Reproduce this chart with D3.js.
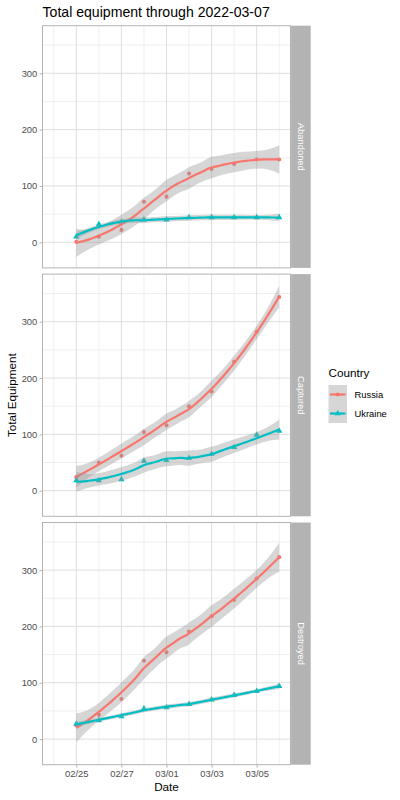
<!DOCTYPE html>
<html><head><meta charset="utf-8">
<script src="https://cdn.jsdelivr.net/npm/d3@7"></script>
<style>body{margin:0;background:#fff} svg{display:block;font-family:"Liberation Sans",Arial,Helvetica,sans-serif}</style>
</head><body><svg id="c" width="400" height="800"></svg>
<script>
// ---------- data ----------
const dates = ["2022-02-25","2022-02-26","2022-02-27","2022-02-28","2022-03-01","2022-03-02","2022-03-03","2022-03-04","2022-03-05","2022-03-06"];
const categories = ["Abandoned","Captured","Destroyed"];
const countries = ["Russia","Ukraine"];
const russiaAbandoned  = [1, 10, 22, 72, 81, 122, 130, 139, 147, 147];
const ukraineAbandoned = [10, 32, 36, 40, 40, 44, 44, 44, 44, 44];
const russiaCaptured   = [24, 50, 62, 104, 116, 150, 176, 229, 282, 344];
const ukraineCaptured  = [18, 18, 20, 53, 54, 58, 65, 77, 99, 106];
const russiaDestroyed  = [24, 43, 71, 139, 154, 191, 218, 247, 285, 323];
const ukraineDestroyed = [27, 33, 40, 54, 56, 62, 70, 78, 85, 94];
const xTickDates  = ["2022-02-25","2022-02-27","2022-03-01","2022-03-03","2022-03-05"];
const xMinorDates = ["2022-02-24","2022-02-26","2022-02-28","2022-03-02","2022-03-04","2022-03-06"];
const yTicks = [0, 100, 200, 300];
const yMinor = [50, 150, 250, 350];
const titleText = "Total equipment through 2022-03-07";

const series = {
  Abandoned: {Russia: russiaAbandoned, Ukraine: ukraineAbandoned},
  Captured:  {Russia: russiaCaptured,  Ukraine: ukraineCaptured},
  Destroyed: {Russia: russiaDestroyed, Ukraine: ukraineDestroyed}
};
const colors = {Russia: "#F8766D", Ukraine: "#00BFC4"};

// ---------- loess (span .75, degree 2) with SE ----------
function inv3(A){
  const [a,b,c]=A[0],[d,e,f]=A[1],[g,h,i]=A[2];
  const det=a*(e*i-f*h)-b*(d*i-f*g)+c*(d*h-e*g);
  return [[(e*i-f*h)/det,(c*h-b*i)/det,(b*f-c*e)/det],
          [(f*g-d*i)/det,(a*i-c*g)/det,(c*d-a*f)/det],
          [(d*h-e*g)/det,(b*g-a*h)/det,(a*e-b*d)/det]];
}
function qt975(df){
  const z=1.959964, z3=z**3, z5=z**5, z7=z**7, z9=z**9;
  return z + (z3+z)/(4*df) + (5*z5+16*z3+3*z)/(96*df*df)
    + (3*z7+19*z5+17*z3-15*z)/(384*df**3)
    + (79*z9+776*z7+1482*z5-1920*z3-945*z)/(92160*df**4);
}
function loess(xs, ys, span=0.75, nGrid=80){
  const n=xs.length, q=Math.floor(n*span);
  function lvec(x0){
    const d=xs.map(v=>Math.abs(v-x0));
    const h=d.slice().sort((a,b)=>a-b)[q-1];
    const w=d.map(di=>{const u=di/h; return u<1?Math.pow(1-u*u*u,3):0;});
    const A=[[0,0,0],[0,0,0],[0,0,0]];
    const V=xs.map(v=>{const dx=v-x0; return [1,dx,dx*dx];});
    for(let k=0;k<n;k++) for(let a=0;a<3;a++) for(let b=0;b<3;b++) A[a][b]+=w[k]*V[k][a]*V[k][b];
    const Ai=inv3(A);
    return V.map((v,k)=>w[k]*(Ai[0][0]*v[0]+Ai[0][1]*v[1]+Ai[0][2]*v[2]));
  }
  const L=xs.map(lvec);
  const M=L.map((row,i)=>row.map((v,j)=>(i===j?1:0)-v));
  const fitted=L.map(r=>d3.sum(r,(v,j)=>v*ys[j]));
  const rss=d3.sum(ys,(y,i)=>(y-fitted[i])**2);
  // MtM
  const MtM=[];
  for(let i=0;i<n;i++){MtM.push([]);for(let j=0;j<n;j++){let s=0;for(let k=0;k<n;k++)s+=M[k][i]*M[k][j];MtM[i].push(s);}}
  const one=d3.sum(MtM,(r,i)=>r[i]);
  let two=0; for(let i=0;i<n;i++)for(let j=0;j<n;j++)two+=MtM[i][j]*MtM[j][i];
  const sigma=Math.sqrt(rss/one), df=one*one/two, tq=qt975(df);
  const x0=d3.min(xs), x1=d3.max(xs);
  return d3.range(nGrid).map(k=>{
    const xv=x0+(x1-x0)*k/(nGrid-1);
    const l=lvec(xv);
    const fit=d3.sum(l,(v,j)=>v*ys[j]);
    const se=sigma*Math.sqrt(d3.sum(l,v=>v*v));
    return {x:xv, y:fit, lo:fit-tq*se, hi:fit+tq*se};
  });
}

// ---------- layout ----------
const svg=d3.select("#c");
const parse=d3.timeParse("%Y-%m-%d");
const xDates=dates.map(parse);
const day=864e5;
const t0=xDates[0].getTime();
const x=d3.scaleTime()
  .domain([new Date(t0-1.5*day), new Date(t0+9.5*day)])
  .range([42.5, 290.5]);
const panelH=242.2, panelStep=248.4, panelTop0=25.7;
const yDomain=[-45.5, 384.5];
const font='"Liberation Sans",Arial,Helvetica,sans-serif';

svg.append("text").attr("x",42.5).attr("y",17.2).attr("font-size",14.1).attr("fill","#000").text(titleText);

const sym={Russia:d3.symbol().type(d3.symbolCircle).size(13), Ukraine:d3.symbol().type(d3.symbolTriangle).size(17)};

categories.forEach((cat,pi)=>{
  const top=panelTop0+pi*panelStep, bot=top+panelH;
  const y=d3.scaleLinear().domain(yDomain).range([bot,top]);
  const g=svg.append("g");
  const clipId="clip"+pi;
  svg.append("clipPath").attr("id",clipId).append("rect")
    .attr("x",x.range()[0]).attr("y",top).attr("width",x.range()[1]-x.range()[0]).attr("height",panelH);
  const pg=g.append("g").attr("clip-path",`url(#${clipId})`);
  // grid
  pg.selectAll(".ymin").data(yMinor).join("line").attr("x1",x.range()[0]).attr("x2",x.range()[1])
    .attr("y1",d=>y(d)).attr("y2",d=>y(d)).attr("stroke","#dedede").attr("stroke-width",0.5);
  pg.selectAll(".xmin").data(xMinorDates.map(parse)).join("line").attr("y1",top).attr("y2",bot)
    .attr("x1",d=>x(d)).attr("x2",d=>x(d)).attr("stroke","#dedede").attr("stroke-width",0.5);
  pg.selectAll(".ymaj").data(yTicks).join("line").attr("x1",x.range()[0]).attr("x2",x.range()[1])
    .attr("y1",d=>y(d)).attr("y2",d=>y(d)).attr("stroke","#dedede").attr("stroke-width",1);
  pg.selectAll(".xmaj").data(xTickDates.map(parse)).join("line").attr("y1",top).attr("y2",bot)
    .attr("x1",d=>x(d)).attr("x2",d=>x(d)).attr("stroke","#dedede").attr("stroke-width",1);
  // points
  countries.forEach(c=>{
    pg.append("g").selectAll("path").data(series[cat][c]).join("path")
      .attr("d",sym[c]).attr("fill",colors[c])
      .attr("transform",(v,i)=>`translate(${x(xDates[i])},${y(v)})`);
  });
  // smooths
  const xsNum=dates.map((d,i)=>i);
  countries.forEach(c=>{
    const sm=loess(xsNum, series[cat][c]);
    const X=v=>x(new Date(t0+v*day));
    pg.append("path").datum(sm).attr("fill","#999999").attr("fill-opacity",0.4)
      .attr("d",d3.area().x(d=>X(d.x)).y0(d=>y(d.lo)).y1(d=>y(d.hi)));
    pg.append("path").datum(sm).attr("fill","none").attr("stroke",colors[c]).attr("stroke-width",2.2)
      .attr("d",d3.line().x(d=>X(d.x)).y(d=>y(d.y)));
  });
  // border
  g.append("rect").attr("x",x.range()[0]).attr("y",top).attr("width",x.range()[1]-x.range()[0]).attr("height",panelH)
    .attr("fill","none").attr("stroke","#b3b3b3").attr("stroke-width",1);
  // y axis
  const ya=g.append("g").attr("transform",`translate(${x.range()[0]},0)`)
    .call(d3.axisLeft(y).tickValues(yTicks).tickSize(2.9).tickPadding(2.3));
  ya.select(".domain").remove();
  ya.selectAll("line").attr("stroke","#b3b3b3");
  ya.selectAll("text").attr("fill","#4d4d4d").attr("font-size",9.4).attr("font-family",font);
  // strip
  const sx=x.range()[1]+0.6, sw=19.6;
  g.append("rect").attr("x",sx).attr("y",top).attr("width",sw).attr("height",panelH).attr("fill","#b3b3b3");
  g.append("text").attr("transform",`translate(${sx+sw/2-3.3},${(top+bot)/2}) rotate(90)`)
    .attr("text-anchor","middle").attr("fill","#fff").attr("font-size",9.4).text(cat);
  if(pi===categories.length-1){
    const xa=g.append("g").attr("transform",`translate(0,${bot})`)
      .call(d3.axisBottom(x).tickValues(xTickDates.map(parse)).tickFormat(d3.timeFormat("%m/%d")).tickSize(2.9).tickPadding(2.5));
    xa.select(".domain").remove();
    xa.selectAll("line").attr("stroke","#b3b3b3");
    xa.selectAll("text").attr("fill","#4d4d4d").attr("font-size",9.4).attr("font-family",font);
  }
});

// axis titles
svg.append("text").attr("x",(x.range()[0]+x.range()[1])/2).attr("y",791).attr("text-anchor","middle")
  .attr("font-size",11.7).attr("fill","#000").text("Date");
svg.append("text").attr("transform",`translate(16,${panelTop0+(2*panelStep+panelH)/2}) rotate(-90)`)
  .attr("text-anchor","middle").attr("font-size",11.7).attr("fill","#000").text("Total Equipment");

// legend
const lg=svg.append("g").attr("transform","translate(328.5,385)");
lg.append("text").attr("x",0).attr("y",-8).attr("font-size",11.7).attr("fill","#000").text("Country");
const ks=19;
countries.forEach((c,i)=>{
  const gy=i*ks;
  lg.append("rect").attr("x",0).attr("y",gy).attr("width",ks-0.5).attr("height",ks).attr("fill","#999999").attr("fill-opacity",0.4);
  lg.append("line").attr("x1",1.5).attr("x2",ks-2).attr("y1",gy+ks/2).attr("y2",gy+ks/2).attr("stroke",colors[c]).attr("stroke-width",2.2);
  lg.append("path").attr("d",sym[c]).attr("fill",colors[c]).attr("transform",`translate(${ks/2-0.25},${gy+ks/2})`);
  lg.append("text").attr("x",ks+7).attr("y",gy+ks/2+3.3).attr("font-size",9.4).attr("fill","#000").text(c);
});
</script></body></html>
